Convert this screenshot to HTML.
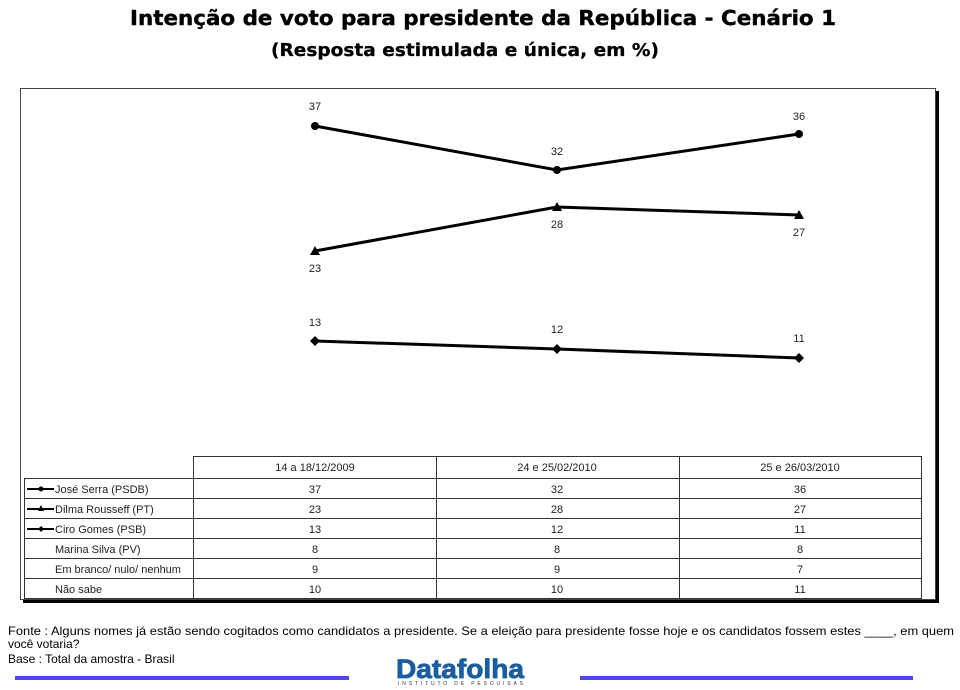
<!DOCTYPE html>
<html><head><meta charset="utf-8"><style>body{margin:0;background:#fff}</style></head><body>
<svg width="960" height="685" xmlns="http://www.w3.org/2000/svg" font-family="Liberation Sans, sans-serif">
<text x="483" y="25" text-anchor="middle" font-family="DejaVu Sans, sans-serif" font-weight="bold" font-size="20" textLength="706" lengthAdjust="spacingAndGlyphs" stroke="#000" stroke-width="0.4">Intenção de voto para presidente da República - Cenário 1</text>
<text x="465" y="56" text-anchor="middle" font-family="DejaVu Sans, sans-serif" font-weight="bold" font-size="18" textLength="388" lengthAdjust="spacingAndGlyphs" stroke="#000" stroke-width="0.3">(Resposta estimulada e única, em %)</text>
<rect x="23" y="91" width="916" height="512" fill="#000"/>
<rect x="20.5" y="88.5" width="915" height="511" fill="#fff" stroke="#444" stroke-width="1"/>
<g stroke="#000" stroke-width="3" fill="none">
<polyline points="315,126 557,170 799,134"/>
<polyline points="315,251 557,207 799,215"/>
<polyline points="315,341 557,349 799,358"/>
</g>
<g fill="#000">
<circle cx="315" cy="126" r="4"/><circle cx="557" cy="170" r="4"/><circle cx="799" cy="134" r="4"/>
<polygon points="315,246 320,255 310,255"/><polygon points="557,202 562,211 552,211"/><polygon points="799,210 804,219 794,219"/>
<polygon points="315,336 320,341 315,346 310,341"/><polygon points="557,344 562,349 557,354 552,349"/><polygon points="799,353 804,358 799,363 794,358"/>
</g>
<g font-size="11" text-anchor="middle" fill="#222">
<text x="315" y="110">37</text><text x="557" y="155">32</text><text x="799" y="120">36</text>
<text x="315" y="272">23</text><text x="557" y="228">28</text><text x="799" y="236">27</text>
<text x="315" y="326">13</text><text x="557" y="333">12</text><text x="799" y="342">11</text>
</g>
<g stroke="#333" stroke-width="1" fill="none">
<rect x="193.5" y="456.5" width="728" height="142"/>
<rect x="24.5" y="478.5" width="169" height="120"/>
<line x1="436.5" y1="456" x2="436.5" y2="599"/><line x1="679.5" y1="456" x2="679.5" y2="599"/>
<line x1="24" y1="478.5" x2="922" y2="478.5"/><line x1="24" y1="498.5" x2="922" y2="498.5"/>
<line x1="24" y1="518.5" x2="922" y2="518.5"/><line x1="24" y1="538.5" x2="922" y2="538.5"/>
<line x1="24" y1="558.5" x2="922" y2="558.5"/><line x1="24" y1="578.5" x2="922" y2="578.5"/>
</g>
<g stroke="#000" stroke-width="2"><line x1="27" y1="489" x2="54" y2="489"/><line x1="27" y1="509" x2="54" y2="509"/><line x1="27" y1="529" x2="54" y2="529"/></g>
<circle cx="41" cy="489" r="2.5"/><polygon points="41,505 44,511 38,511"/><polygon points="41,526 44,529 41,532 38,529"/>
<g font-size="11" fill="#222">
<text x="55" y="493">José Serra (PSDB)</text><text x="55" y="513">Dilma Rousseff (PT)</text><text x="55" y="533">Ciro Gomes (PSB)</text>
<text x="55" y="553">Marina Silva (PV)</text><text x="55" y="573">Em branco/ nulo/ nenhum</text><text x="55" y="593">Não sabe</text>
</g>
<g font-size="11" fill="#222" text-anchor="middle">
<text x="315" y="471">14 a 18/12/2009</text><text x="557" y="471">24 e 25/02/2010</text><text x="800" y="471">25 e 26/03/2010</text>
<text x="315" y="493">37</text><text x="557" y="493">32</text><text x="800" y="493">36</text>
<text x="315" y="513">23</text><text x="557" y="513">28</text><text x="800" y="513">27</text>
<text x="315" y="533">13</text><text x="557" y="533">12</text><text x="800" y="533">11</text>
<text x="315" y="553">8</text><text x="557" y="553">8</text><text x="800" y="553">8</text>
<text x="315" y="573">9</text><text x="557" y="573">9</text><text x="800" y="573">7</text>
<text x="315" y="593">10</text><text x="557" y="593">10</text><text x="800" y="593">11</text>
</g>
<g font-size="12" fill="#000">
<text x="8" y="635" textLength="946" lengthAdjust="spacingAndGlyphs">Fonte : Alguns nomes já estão sendo cogitados como candidatos a presidente. Se a eleição para presidente fosse hoje e os candidatos fossem estes ____, em quem</text>
<text x="8" y="648">você votaria?</text>
<text x="8" y="663">Base : Total da amostra - Brasil</text>
</g>
<text x="396" y="678" font-weight="bold" font-size="27" fill="#1a5ea0" stroke="#1a5ea0" stroke-width="0.8" textLength="128" lengthAdjust="spacingAndGlyphs">Datafolha</text>
<text x="398" y="685" font-size="5" fill="#333" textLength="125" lengthAdjust="spacing">INSTITUTO DE PESQUISAS</text>
<rect x="15" y="676" width="334" height="4" fill="#5048e0"/>
<rect x="580" y="676" width="333" height="4" fill="#5048e0"/>
</svg>
</body></html>
